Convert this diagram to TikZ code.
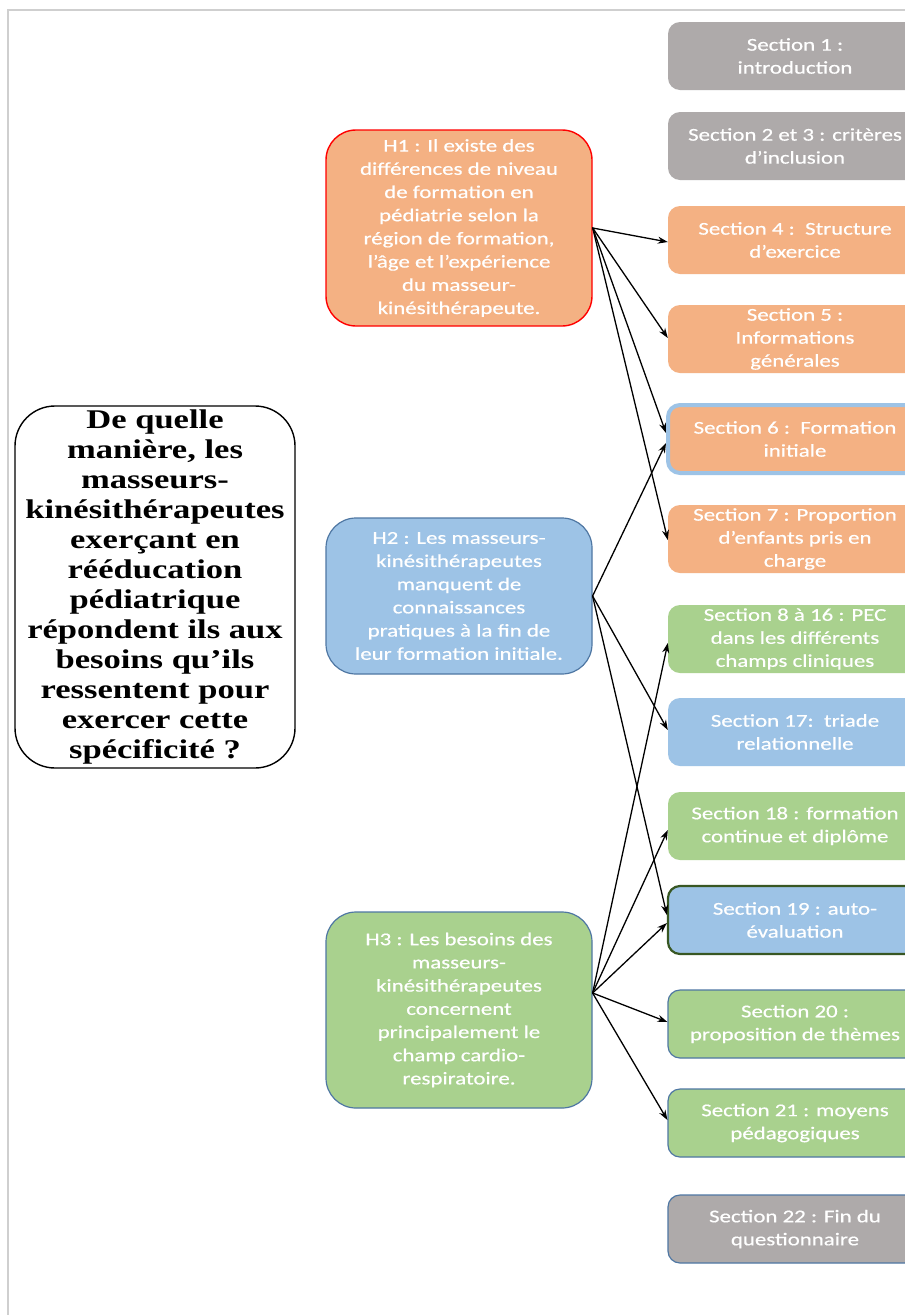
\documentclass[tikz,border=0pt]{standalone}
\usepackage{fontspec}
\usetikzlibrary{arrows.meta}
\newfontfamily\calibfont[FakeStretch=1.27,FakeBold=0.5]{Carlito}
\newfontfamily\quesfont[FakeStretch=1.28]{Liberation Serif}
\definecolor{secgray}{HTML}{AEAAAA}
\definecolor{secorange}{HTML}{F4B183}
\definecolor{secblue}{HTML}{9DC3E6}
\definecolor{secgreen}{HTML}{A9D18E}
\definecolor{edgeblue}{HTML}{4F77A3}
\definecolor{edgegreen}{HTML}{385723}
\definecolor{pageedge}{HTML}{CFCFCF}

\begin{document}
\begin{tikzpicture}[x=1pt,y=-1pt,line cap=round,
    secbox/.style={rounded corners=12pt,minimum width=254pt,minimum height=68pt,inner sep=0pt,
        align=center,text=white,font=\calibfont\fontsize{18}{23}\selectfont},
    hypbox/.style={rounded corners=30pt,minimum width=266pt,inner sep=0pt,
        align=center,text=white,font=\calibfont\fontsize{18}{23.2}\selectfont},
    arr/.style={-{Stealth[length=10pt,width=7pt]},line width=1.3pt}]
    \useasboundingbox (0,0) rectangle (905,1315);
    \fill[white] (0,0) rectangle (905,1315);
    \clip (0,0) rectangle (905,1315);
    % page edge
    \draw[pageedge,line width=2pt] (8,1315) -- (8,10) -- (905,10);
    % question
    \node[draw=black,line width=1.4pt,rounded corners=40pt,minimum width=280pt,minimum height=362pt,
        align=center,inner sep=0pt,font=\quesfont\bfseries\fontsize{27}{30}\selectfont]
        (ques) at (155,587) {De quelle\\manière, les\\masseurs-\\kinésithérapeutes\\exerçant en\\rééducation\\pédiatrique\\répondent ils aux\\besoins qu’ils\\ressentent pour\\exercer cette\\spécificité ?};
    % hypotheses
    \node[hypbox,fill=secorange,draw=red,line width=1.4pt,minimum height=196pt] (h1) at (459,228)
        {H1 : Il existe des\\différences de niveau\\de formation en\\pédiatrie selon la\\région de formation,\\l’âge et l’expérience\\du masseur-\\kinésithérapeute.};
    \node[hypbox,fill=secblue,draw=edgeblue,line width=1.2pt,minimum height=156pt] (h2) at (459,596)
        {H2 : Les masseurs-\\kinésithérapeutes\\manquent de\\connaissances\\pratiques à la fin de\\leur formation initiale.};
    \node[hypbox,fill=secgreen,draw=edgeblue,line width=1.2pt,minimum height=196pt] (h3) at (459,1010)
        {H3 : Les besoins des\\masseurs-\\kinésithérapeutes\\concernent\\principalement le\\champ cardio-\\respiratoire.};
    % sections
    \node[secbox,fill=secgray] (s1) at (795,56) {Section 1 :\\introduction};
    \node[secbox,fill=secgray] (s2) at (795,146) {Section 2 et 3 : critères\\d’inclusion};
    \node[secbox,fill=secorange] (s4) at (795,240) {Section 4 :\ \ Structure\\d’exercice};
    \node[secbox,fill=secorange] (s5) at (795,339) {Section 5 :\\Informations\\générales};
    \node[secbox,fill=secorange,draw=secblue,line width=4pt] (s6) at (795,439) {Section 6 :\ \ Formation\\initiale};
    \node[secbox,fill=secorange] (s7) at (795,539) {Section 7 : Proportion\\d’enfants pris en\\charge};
    \node[secbox,fill=secgreen] (s8) at (795,639) {Section 8 à 16 : PEC\\dans les différents\\champs cliniques};
    \node[secbox,fill=secblue] (s17) at (795,732) {Section 17:\ \ triade\\relationnelle};
    \node[secbox,fill=secgreen] (s18) at (795,826) {Section 18 : formation\\continue et diplôme};
    \node[secbox,fill=secblue,draw=edgegreen,line width=2.2pt] (s19) at (795,920) {Section 19 : auto-\\évaluation};
    \node[secbox,fill=secgreen,draw=edgeblue,line width=1.2pt] (s20) at (795,1024) {Section 20 :\\proposition de thèmes};
    \node[secbox,fill=secgreen,draw=edgeblue,line width=1.2pt] (s21) at (795,1123) {Section 21 : moyens\\pédagogiques};
    \node[secbox,fill=secgray,draw=edgeblue,line width=1.2pt] (s22) at (795,1229) {Section 22 : Fin du\\questionnaire};
    % links
    \coordinate (h3o) at ([yshift=17pt]h3.east);
    \foreach \from/\to/\dy in {h1/s4/-2,h1/s5/1,h1/s6/6,h1/s7/-1,
        h2/s6/-4,h2/s17/2,h2/s19/5,
        h3o/s8/-4,h3o/s18/-4,h3o/s19/-3,h3o/s20/2,h3o/s21/3}{
        \draw[arr] (\from.east) -- ([yshift=\dy pt]\to.west);
    }
\end{tikzpicture}
\end{document}
